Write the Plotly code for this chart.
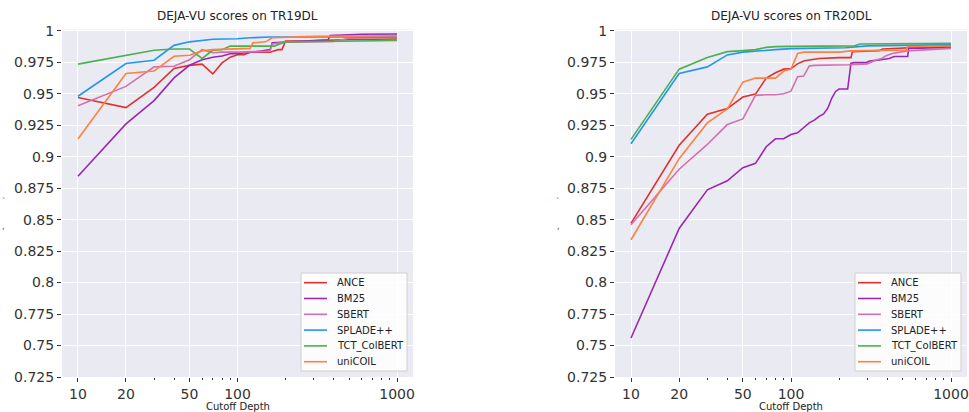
import plotly.graph_objects as go

# ---------------- data ----------------
series_names = ["ANCE", "BM25", "SBERT", "SPLADE++", "TCT_ColBERT", "uniCOIL"]
series_colors = ["#e0312f", "#9c27b0", "#d46fb0", "#2196f3", "#4caf50", "#ff8040"]

# TR19DL
tr19_ance_x = [10, 20, 30, 40, 50, 60, 70, 80, 90, 100, 110, 120, 160, 180, 190, 200, 300, 500, 1000]
tr19_ance_y = [0.947, 0.939, 0.955, 0.970, 0.9725, 0.9735, 0.9657, 0.9745, 0.979, 0.981, 0.981, 0.983, 0.983, 0.985, 0.985, 0.9918, 0.992, 0.993, 0.9935]
tr19_bm25_x = [10, 20, 30, 40, 50, 60, 70, 80, 90, 100, 140, 160, 165, 200, 370, 380, 600, 1000]
tr19_bm25_y = [0.8845, 0.926, 0.9445, 0.9626, 0.9726, 0.977, 0.979, 0.980, 0.9817, 0.9817, 0.9838, 0.985, 0.9904, 0.991, 0.9928, 0.9963, 0.9972, 0.9974]
tr19_sbert_x = [10, 20, 30, 40, 50, 60, 70, 80, 100, 150, 160, 165, 200, 400, 500, 1000]
tr19_sbert_y = [0.9405, 0.9558, 0.9713, 0.9718, 0.977, 0.985, 0.9825, 0.983, 0.983, 0.9838, 0.9838, 0.9895, 0.991, 0.9915, 0.994, 0.995]
tr19_splade_x = [10, 20, 30, 40, 50, 60, 70, 100, 120, 160, 1000]
tr19_splade_y = [0.948, 0.974, 0.9766, 0.9884, 0.9912, 0.9925, 0.9932, 0.9936, 0.9944, 0.995, 0.995]
tr19_tct_x = [10, 20, 30, 40, 50, 60, 70, 80, 90, 170, 190, 200, 1000]
tr19_tct_y = [0.9735, 0.9805, 0.9845, 0.9855, 0.9855, 0.978, 0.9845, 0.985, 0.9878, 0.9878, 0.9904, 0.9912, 0.9923]
tr19_unicoil_x = [10, 20, 30, 40, 50, 60, 70, 100, 120, 125, 150, 165, 300, 1000]
tr19_unicoil_y = [0.914, 0.966, 0.968, 0.9797, 0.9805, 0.984, 0.985, 0.986, 0.986, 0.9904, 0.9912, 0.9944, 0.9955, 0.996]

# TR20DL
tr20_ance_x = [10, 20, 30, 40, 50, 60, 70, 80, 90, 100, 110, 120, 130, 150, 200, 237, 242, 356, 373, 1000]
tr20_ance_y = [0.847, 0.909, 0.9337, 0.9382, 0.9474, 0.9497, 0.9624, 0.9666, 0.9695, 0.970, 0.9737, 0.976, 0.9768, 0.978, 0.9787, 0.9787, 0.9834, 0.9842, 0.9855, 0.988]
tr20_bm25_x = [10, 20, 30, 40, 50, 60, 70, 80, 90, 100, 110, 120, 130, 140, 150, 160, 170, 180, 190, 200, 226, 237, 249, 295, 309, 356, 411, 442, 536, 544, 1000]
tr20_bm25_y = [0.756, 0.843, 0.8737, 0.8808, 0.8913, 0.8947, 0.9079, 0.9142, 0.9142, 0.9176, 0.919, 0.9229, 0.9268, 0.929, 0.932, 0.934, 0.9387, 0.9466, 0.9518, 0.9537, 0.9537, 0.9742, 0.9747, 0.9747, 0.976, 0.9768, 0.978, 0.9795, 0.9795, 0.986, 0.9868]
tr20_sbert_x = [10, 20, 30, 40, 50, 60, 70, 80, 90, 100, 110, 120, 130, 140, 230, 300, 340, 370, 390, 430, 530, 1000]
tr20_sbert_y = [0.846, 0.89, 0.9097, 0.9255, 0.930, 0.9487, 0.9492, 0.9492, 0.950, 0.952, 0.9635, 0.964, 0.972, 0.9725, 0.973, 0.9737, 0.9768, 0.978, 0.980, 0.982, 0.984, 0.986]
tr20_splade_x = [10, 20, 30, 40, 50, 60, 70, 80, 100, 200, 220, 300, 1000]
tr20_splade_y = [0.9103, 0.966, 0.9713, 0.9808, 0.983, 0.984, 0.9847, 0.985, 0.9858, 0.986, 0.9865, 0.988, 0.989]
tr20_tct_x = [10, 20, 30, 40, 50, 60, 70, 80, 100, 250, 270, 1000]
tr20_tct_y = [0.9137, 0.9695, 0.9787, 0.9834, 0.9842, 0.985, 0.9868, 0.9874, 0.9876, 0.988, 0.9895, 0.990]
tr20_unicoil_x = [10, 20, 30, 40, 50, 60, 70, 80, 90, 100, 110, 120, 200, 237, 525, 536, 1000]
tr20_unicoil_y = [0.834, 0.8984, 0.9268, 0.9379, 0.9592, 0.9624, 0.9624, 0.9624, 0.968, 0.9695, 0.982, 0.983, 0.983, 0.984, 0.9847, 0.9874, 0.9879]

panel_titles = ["DEJA-VU scores on TR19DL", "DEJA-VU scores on TR20DL"]
x_title = "Cutoff Depth"
y_tick_vals = [0.725, 0.75, 0.775, 0.8, 0.825, 0.85, 0.875, 0.9, 0.925, 0.95, 0.975, 1.0]
y_tick_text = ["0.725", "0.75", "0.775", "0.8", "0.825", "0.85", "0.875", "0.9", "0.925", "0.95", "0.975", "1"]
x_tick_vals = [10, 20, 50, 100, 1000]
x_tick_text = ["10", "20", "50", "100", "1000"]
x_minor_vals = [30, 40, 60, 70, 80, 90, 200, 300, 400, 500, 600, 700, 800, 900]

tr19 = [(tr19_ance_x, tr19_ance_y), (tr19_bm25_x, tr19_bm25_y), (tr19_sbert_x, tr19_sbert_y),
        (tr19_splade_x, tr19_splade_y), (tr19_tct_x, tr19_tct_y), (tr19_unicoil_x, tr19_unicoil_y)]
tr20 = [(tr20_ance_x, tr20_ance_y), (tr20_bm25_x, tr20_bm25_y), (tr20_sbert_x, tr20_sbert_y),
        (tr20_splade_x, tr20_splade_y), (tr20_tct_x, tr20_tct_y), (tr20_unicoil_x, tr20_unicoil_y)]

# ---------------- figure ----------------
W, H = 969, 412
FONT = "DejaVu Sans"
fig = go.Figure()

for data, xa, ya in [(tr19, "x", "y"), (tr20, "x2", "y2")]:
    for name, color, (xs, ys) in zip(series_names, series_colors, data):
        fig.add_trace(go.Scatter(x=xs, y=ys, mode="lines", name=name,
                                 line=dict(color=color, width=1.6),
                                 xaxis=xa, yaxis=ya, showlegend=False))

dom_left = [62 / W, 413 / W]
dom_right = [615 / W, 967 / W]
ydom = [1 - 377 / H, 1 - 29.5 / H]

def xaxis(domain, anchor):
    return dict(domain=domain, anchor=anchor, type="log", range=[0.9, 3.1],
                automargin=False,
                tickvals=x_tick_vals, ticktext=x_tick_text,
                ticks="outside", ticklen=4, tickcolor="#333", tickwidth=1,
                tickfont=dict(family=FONT, size=14, color="#333"),
                showgrid=True, gridcolor="white", gridwidth=1, zeroline=False,
                showline=False,
                minor=dict(tickvals=x_minor_vals, ticks="outside", ticklen=2,
                           tickcolor="#333", showgrid=False))

def yaxis(anchor):
    return dict(domain=ydom, anchor=anchor, range=[0.725, 1.001],
                automargin=False,
                tickvals=y_tick_vals, ticktext=y_tick_text,
                ticks="outside", ticklen=4, tickcolor="#333", tickwidth=1,
                tickfont=dict(family=FONT, size=14, color="#333"),
                showgrid=True, gridcolor="white", gridwidth=1, zeroline=False,
                showline=False)

fig.update_layout(
    width=W, height=H,
    margin=dict(l=0, r=0, t=0, b=0, autoexpand=False),
    paper_bgcolor="white", plot_bgcolor="#EAEAF2",
    font=dict(family=FONT, color="#222"),
    showlegend=False,
    hovermode=False,
    xaxis=xaxis(dom_left, "y"), yaxis=yaxis("x"),
    xaxis2=xaxis(dom_right, "y2"), yaxis2=yaxis("x2"),
)

annotations = []
shapes = []
for title, dom in zip(panel_titles, [dom_left, dom_right]):
    cx = (dom[0] + dom[1]) / 2
    annotations.append(dict(text=title, x=cx, y=1 - 16 / H, xref="paper", yref="paper",
                            xanchor="center", yanchor="middle", showarrow=False,
                            font=dict(family=FONT, size=12, color="#222")))
    annotations.append(dict(text=x_title, x=cx, y=1 - 406 / H, xref="paper", yref="paper",
                            xanchor="center", yanchor="middle", showarrow=False,
                            font=dict(family=FONT, size=10, color="#222")))

# legend boxes (one per panel), built from the series names / colours
for box_left in [301, 855]:
    shapes.append(dict(type="rect", xref="paper", yref="paper",
                       x0=box_left / W, x1=(box_left + 106) / W,
                       y0=1 - 371 / H, y1=1 - 273 / H,
                       fillcolor="rgba(255,255,255,0.85)", line=dict(color="#d0d0d0", width=1)))
    for i, (name, color) in enumerate(zip(series_names, series_colors)):
        yy = 1 - (282.7 + 15.8 * i) / H
        shapes.append(dict(type="line", xref="paper", yref="paper",
                           x0=(box_left + 3) / W, x1=(box_left + 26) / W, y0=yy, y1=yy,
                           line=dict(color=color, width=1.6)))
        annotations.append(dict(text=name, x=(box_left + 34) / W, y=yy, xref="paper", yref="paper",
                                xanchor="left", yanchor="middle", showarrow=False,
                                font=dict(family=FONT, size=10, color="#222")))

for px in [4, 558]:
    annotations.append(dict(text="`", x=px / W, y=1 - 202 / H, xref="paper", yref="paper",
                            xanchor="center", yanchor="middle", showarrow=False,
                            font=dict(family=FONT, size=8, color="#444")))
    annotations.append(dict(text=",", x=px / W, y=1 - 226 / H, xref="paper", yref="paper",
                            xanchor="center", yanchor="middle", showarrow=False,
                            font=dict(family=FONT, size=8, color="#444")))
fig.update_layout(annotations=annotations, shapes=shapes)

fig.write_html("out.html",
               config={"displayModeBar": False, "staticPlot": True},
               post_script="document.body.style.margin='0';document.body.style.overflow='hidden';")
